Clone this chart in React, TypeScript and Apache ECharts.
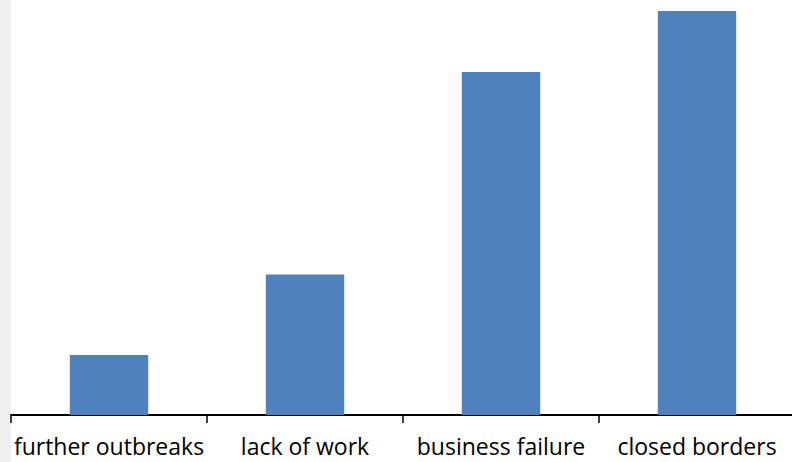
import React, { useEffect, useRef } from "react";
import * as echarts from "echarts";

const categories = ["further outbreaks", "lack of work", "business failure", "closed borders"];
const values = [14.85, 34.8, 84.9, 100];
const yMax = 100;

export default function App() {
  const ref = useRef<HTMLDivElement>(null);

  useEffect(() => {
    if (!ref.current) return;
    const chart = echarts.init(ref.current, undefined, { renderer: "svg" });
    chart.setOption({
      animation: false,
      backgroundColor: "#ffffff",
      graphic: [
        {
          type: "rect",
          left: 0,
          top: 0,
          shape: { width: 11, height: 462 },
          style: { fill: "#f0f0f0" },
          z: -10,
        },
      ],
      grid: { left: 11, right: 5, top: 11, bottom: 47 },
      xAxis: {
        type: "category",
        data: categories,
        axisLine: { lineStyle: { color: "#000000", width: 1.8 } },
        axisTick: { show: true, length: 8, lineStyle: { color: "#000000", width: 1.5 } },
        axisLabel: {
          color: "#000000",
          fontFamily: "Open Sans",
          fontSize: 23,
          margin: 19,
          interval: 0,
        },
      },
      yAxis: {
        type: "value",
        min: 0,
        max: yMax,
        show: false,
        splitLine: { show: false },
      },
      series: [
        {
          type: "bar",
          data: values,
          barWidth: "40%",
          itemStyle: { color: "#4f81bd" },
        },
      ],
    });
    return () => chart.dispose();
  }, []);

  return (
    <div
      style={{
        position: "fixed",
        left: 0,
        top: 0,
        width: 792,
        height: 462,
        overflow: "hidden",
        background: "#ffffff",
      }}
    >
      <div ref={ref} style={{ width: 800, height: 462 }} />
    </div>
  );
}
